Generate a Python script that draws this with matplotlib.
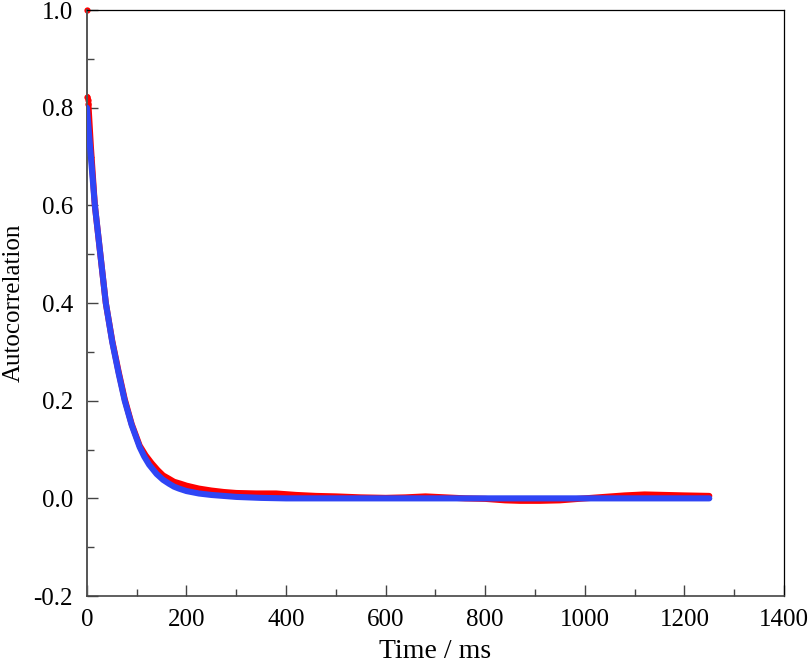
import numpy as np
import matplotlib.pyplot as plt
from matplotlib.ticker import MultipleLocator, FormatStrFormatter

plt.rcParams['font.family'] = ['Liberation Serif', 'DejaVu Serif']
plt.rcParams['axes.unicode_minus'] = False

t_data = [0, 1, 2, 3, 8, 16, 27, 38, 51, 64, 76, 90, 106, 118, 130, 142, 153,
          165, 175, 188, 200, 225, 250, 275, 300, 340, 380, 420, 460, 500, 550,
          600, 640, 680, 720, 760, 800, 840, 870, 910, 950, 1000, 1040, 1080,
          1120, 1160, 1200, 1250]
acf_data = [1.0, 0.822, 0.815, 0.808, 0.72, 0.60, 0.50, 0.40, 0.322, 0.258,
            0.203, 0.152, 0.108, 0.088, 0.072, 0.058, 0.047, 0.040, 0.034,
            0.030, 0.026, 0.020, 0.016, 0.013, 0.011, 0.010, 0.010, 0.007,
            0.005, 0.004, 0.002, 0.001, 0.002, 0.004, 0.002, 0.0, -0.001,
            -0.004, -0.005, -0.005, -0.004, 0.0, 0.003, 0.006, 0.008, 0.007,
            0.006, 0.005]

# exponential fit (blue)
t_fit = [0, 8, 16, 27, 38, 51, 64, 76, 90, 106, 115, 125, 140, 153, 165, 175,
         185, 200, 225, 250, 300, 350, 400, 500, 600, 800, 1000, 1250]
acf_fit = [0.80, 0.70, 0.60, 0.50, 0.40, 0.32, 0.255, 0.20, 0.15, 0.105, 0.086,
           0.069, 0.050, 0.038, 0.030, 0.024, 0.020, 0.015, 0.010, 0.007,
           0.003, 0.001, 0.0, 0.0, 0.0, 0.0, 0.0, 0.0]

fig = plt.figure(figsize=(8.12, 6.70), dpi=100)
ax = fig.add_axes([0.107, 0.1104, 0.8585, 0.8746])

# red data: first points as lone dots, the rest as a thick trace
ax.plot(t_data[:4], acf_data[:4], 'o', color='red', ms=4.5, mec='none',
        zorder=2, clip_on=False)
ax.plot(t_data[1:], acf_data[1:], '-', color='red', lw=4.4,
        solid_capstyle='round', zorder=2)
ax.plot(t_fit, acf_fit, '-', color='#2f45f5', lw=4.4,
        solid_capstyle='round', zorder=3)

ax.set_xlim(0, 1400)
ax.set_ylim(-0.2, 1.0)
ax.xaxis.set_major_locator(MultipleLocator(200))
ax.xaxis.set_minor_locator(MultipleLocator(100))
ax.yaxis.set_major_locator(MultipleLocator(0.2))
ax.yaxis.set_minor_locator(MultipleLocator(0.1))
ax.yaxis.set_major_formatter(FormatStrFormatter('%.1f'))

ax.tick_params(which='both', direction='in', top=False, right=False,
               labelsize=18, color='#444444')
ax.tick_params(axis='x', pad=9)
ax.tick_params(axis='y', pad=10)
ax.tick_params(which='major', length=8, width=1.0)
ax.tick_params(which='minor', length=5, width=1.0)
ax.spines['left'].set_color('#555555')
ax.spines['bottom'].set_color('#444444')
ax.spines['left'].set_linewidth(1.4)
ax.spines['bottom'].set_linewidth(1.2)
ax.spines['top'].set_linewidth(0.9)
ax.spines['right'].set_linewidth(0.9)

ax.set_xlabel('Time / ms', fontsize=20, labelpad=6)
ax.set_ylabel('Autocorrelation', fontsize=18, labelpad=6)

fig.savefig('out.png', dpi=100)
